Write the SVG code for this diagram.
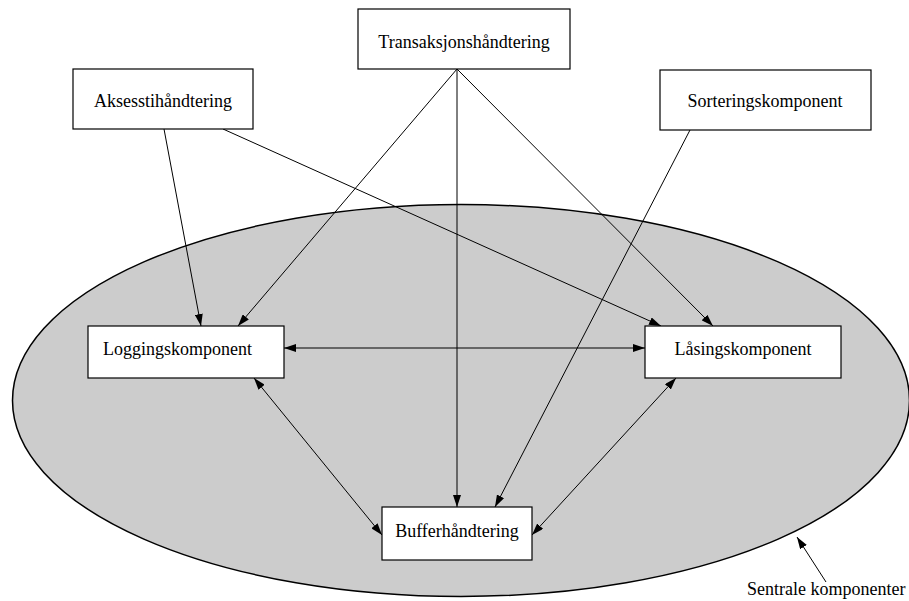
<svg xmlns="http://www.w3.org/2000/svg" width="909" height="601" viewBox="0 0 909 601">
  <style>
    .box { fill: #ffffff; stroke: #000000; stroke-width: 1.2; }
    .lbl { font-family: "Liberation Serif", "Times New Roman", serif; font-size: 18px; fill: #000000; text-anchor: middle; }
    .edge { fill: none; stroke: #000000; stroke-width: 1; }
  </style>
  <defs>
    <marker id="head" viewBox="0 0 12 8" refX="12" refY="4" markerWidth="12" markerHeight="8" markerUnits="userSpaceOnUse" orient="auto-start-reverse">
      <path d="M0,0 L12,4 L0,8 Z" fill="#000000"/>
    </marker>
  </defs>

  <!-- core region -->
  <g id="sentrale-komponenter">
    <ellipse cx="461" cy="400.5" rx="448.5" ry="196" fill="#cccccc" stroke="#000000" stroke-width="1.5"/>
    <text class="lbl" x="747" y="595" style="text-anchor:start">Sentrale komponenter</text>
  </g>

  <g id="connectors">
    <line class="edge" x1="457" y1="69" x2="457" y2="507" marker-end="url(#head)"/>
    <line class="edge" x1="457" y1="69" x2="238" y2="326" marker-end="url(#head)"/>
    <line class="edge" x1="457" y1="69" x2="713" y2="326" marker-end="url(#head)"/>
    <line class="edge" x1="164" y1="129" x2="201" y2="326" marker-end="url(#head)"/>
    <line class="edge" x1="223" y1="129" x2="661" y2="326" marker-end="url(#head)"/>
    <line class="edge" x1="690" y1="130" x2="495" y2="507" marker-end="url(#head)"/>
    <line class="edge" x1="284" y1="348" x2="645" y2="348" marker-start="url(#head)" marker-end="url(#head)"/>
    <line class="edge" x1="254" y1="378" x2="382" y2="535" marker-start="url(#head)" marker-end="url(#head)"/>
    <line class="edge" x1="676" y1="378" x2="532" y2="535" marker-start="url(#head)" marker-end="url(#head)"/>
    <line class="edge" x1="826" y1="582" x2="797" y2="537" marker-end="url(#head)"/>
  </g>

  <g id="transaksjonshandtering">
    <rect class="box" x="358" y="9" width="212" height="60"/>
    <text class="lbl" x="464" y="48">Transaksjonshåndtering</text>
  </g>

  <g id="aksesstihandtering">
    <rect class="box" x="73" y="69" width="180" height="60"/>
    <text class="lbl" x="163" y="107">Aksesstihåndtering</text>
  </g>

  <g id="sorteringskomponent">
    <rect class="box" x="660" y="70" width="211" height="60"/>
    <text class="lbl" x="765" y="107">Sorteringskomponent</text>
  </g>

  <g id="loggingskomponent">
    <rect class="box" x="88" y="326" width="196" height="52"/>
    <text class="lbl" x="103" y="355" style="text-anchor:start">Loggingskomponent</text>
  </g>

  <g id="lasingskomponent">
    <rect class="box" x="645" y="326" width="196" height="52"/>
    <text class="lbl" x="743" y="355">Låsingskomponent</text>
  </g>

  <g id="bufferhandtering">
    <rect class="box" x="382" y="507" width="150" height="53"/>
    <text class="lbl" x="457" y="537">Bufferhåndtering</text>
  </g>
</svg>
